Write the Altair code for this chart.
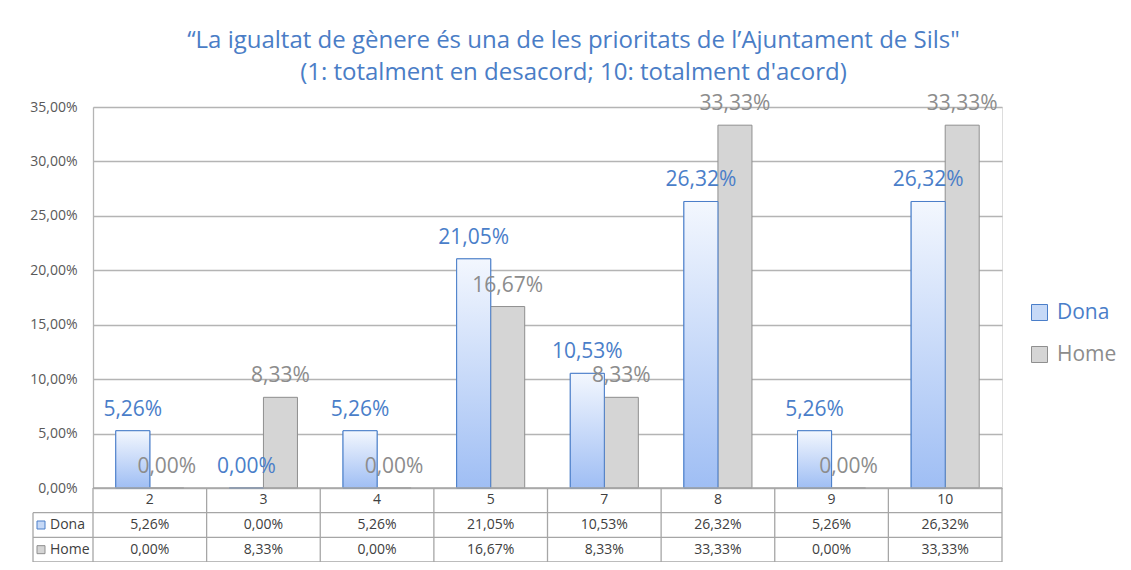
import altair as alt
import pandas as pd

# ---------------- data ----------------
categories = ["2", "3", "4", "5", "7", "8", "9", "10"]
series = ["Dona", "Home"]
dona = [5.26, 0.00, 5.26, 21.05, 10.53, 26.32, 5.26, 26.32]
home = [0.00, 8.33, 0.00, 16.67, 8.33, 33.33, 0.00, 33.33]
y_ticks = [0, 5, 10, 15, 20, 25, 30, 35]
title_lines = [
    "\u201cLa igualtat de g\u00e8nere \u00e9s una de les prioritats de l\u2019Ajuntament de Sils\"",
    "(1: totalment en desacord; 10: totalment d'acord)",
]

# ---------------- style / layout ----------------
FONT = "Open Sans"
W, H = 909, 381
TABLE_H = 74
BLUE = "#4a7ec9"
GRAY_TXT = "#8c8c8c"
DONA_FILL = "#c6d9f7"
HOME_FILL = "#d5d5d5"
HOME_STROKE = "#8f8f8f"
LINE = "#a6a6a6"
TXT = "#404040"
COL_PX = W / len(categories)
HDR_L = -60 / COL_PX          # left edge of header column (in column units)
ICON_X = -52 / COL_PX
HDR_TXT_X = -43 / COL_PX

def pct(v):
    return f"{v:.2f}".replace(".", ",") + "%"

# ---------------- tables built from the arrays ----------------
main_df = pd.DataFrame(
    [{"category": c, "series": "Dona", "value": v} for c, v in zip(categories, dona)]
    + [{"category": c, "series": "Home", "value": v} for c, v in zip(categories, home)]
)

cells = []
for i, c in enumerate(categories):
    cells.append({"x": i + 0.5, "y": 0.5, "text": c})
    cells.append({"x": i + 0.5, "y": 1.5, "text": pct(dona[i])})
    cells.append({"x": i + 0.5, "y": 2.5, "text": pct(home[i])})
cells_df = pd.DataFrame(cells)

hdr_df = pd.DataFrame([
    {"x": HDR_TXT_X, "y": 1.5, "text": series[0], "series": series[0], "ix": ICON_X},
    {"x": HDR_TXT_X, "y": 2.5, "text": series[1], "series": series[1], "ix": ICON_X},
])

lines = []
for r in range(4):
    lines.append({"x": HDR_L if r >= 1 else 0, "x2": len(categories), "y": r, "y2": r})
for k in range(len(categories) + 1):
    lines.append({"x": k, "x2": k, "y": 0, "y2": 3})
lines.append({"x": HDR_L, "x2": HDR_L, "y": 1, "y2": 3})
lines_df = pd.DataFrame(lines)

# ---------------- main chart ----------------
x_enc = alt.X("category:N", sort=categories,
              scale=alt.Scale(paddingInner=0, paddingOuter=0), axis=None)
xo_enc = alt.XOffset("series:N", sort=series,
                     scale=alt.Scale(domain=series, paddingInner=0, paddingOuter=0.67))
y_enc = alt.Y(
    "value:Q",
    scale=alt.Scale(domain=[0, 35], nice=False),
    axis=alt.Axis(
        title=None, values=y_ticks, grid=True, gridColor="#b4b4b4", gridWidth=1.3,
        domainColor="#b4b4b4", domainWidth=1.3, ticks=False, labelPadding=16,
        labelFont=FONT, labelFontSize=14, labelColor="#595959",
        labelExpr="replace(format(datum.value, '.2f'), '.', ',') + '%'",
    ),
)

legend = alt.Legend(
    title=None, orient="none", legendX=936, legendY=195, symbolType="square",
    symbolSize=256, symbolStrokeWidth=1, labelFont=FONT, labelFontSize=21,
    labelColor={"expr": "datum.label == 'Dona' ? '#4a7ec9' : '#8c8c8c'"},
    rowPadding=20, labelOffset=7,
)

base = alt.Chart(main_df)

bars = base.mark_bar(strokeWidth=1).encode(
    x=x_enc, xOffset=xo_enc, y=y_enc,
    fill=alt.Fill("series:N", scale=alt.Scale(domain=series, range=[DONA_FILL, HOME_FILL]), legend=legend),
    stroke=alt.Stroke("series:N", scale=alt.Scale(domain=series, range=[BLUE, HOME_STROKE]), legend=legend),
)

gradient = {
    "gradient": "linear", "x1": 0, "y1": 0, "x2": 0, "y2": 1,
    "stops": [{"offset": 0, "color": "#f3f7fe"}, {"offset": 1, "color": "#9fbef4"}],
}
dona_bars = base.transform_filter("datum.series == 'Dona'").mark_bar(
    fill=gradient, stroke=BLUE, strokeWidth=1
).encode(x=x_enc, xOffset=xo_enc, y=alt.Y("value:Q"))

labels = base.transform_calculate(
    label="replace(format(datum.value, '.2f'), '.', ',') + '%'"
).mark_text(font=FONT, fontSize=21, dy=-21, baseline="middle").encode(
    x=x_enc, xOffset=xo_enc, y=alt.Y("value:Q"), text="label:N",
    color=alt.condition("datum.series == 'Dona'", alt.value(BLUE), alt.value(GRAY_TXT)),
)

main = alt.layer(bars, dona_bars, labels)

# ---------------- data table ----------------
tx = alt.Scale(domain=[0, len(categories)], range=[0, W], nice=False, zero=False)
ty = alt.Scale(domain=[0, 3], range=[H, H + TABLE_H], nice=False, zero=False)

rules = alt.Chart(lines_df).mark_rule(color=LINE, strokeWidth=1.3).encode(
    x=alt.X("x:Q", scale=tx, axis=None), x2="x2:Q",
    y=alt.Y("y:Q", scale=ty, axis=None), y2="y2:Q",
)
cell_text = alt.Chart(cells_df).mark_text(font=FONT, fontSize=14, color=TXT, baseline="middle").encode(
    x=alt.X("x:Q", scale=tx, axis=None), y=alt.Y("y:Q", scale=ty, axis=None), text="text:N",
)
hdr_text = alt.Chart(hdr_df).mark_text(font=FONT, fontSize=14, color=TXT, baseline="middle", align="left").encode(
    x=alt.X("x:Q", scale=tx, axis=None), y=alt.Y("y:Q", scale=ty, axis=None), text="text:N",
)
icon_d = alt.Chart(hdr_df).transform_filter("datum.series == 'Dona'").mark_square(
    size=64, fill=DONA_FILL, stroke=BLUE, strokeWidth=1, opacity=1
).encode(x=alt.X("ix:Q", scale=tx, axis=None), y=alt.Y("y:Q", scale=ty, axis=None))
icon_h = alt.Chart(hdr_df).transform_filter("datum.series == 'Home'").mark_square(
    size=64, fill=HOME_FILL, stroke=HOME_STROKE, strokeWidth=1, opacity=1
).encode(x=alt.X("ix:Q", scale=tx, axis=None), y=alt.Y("y:Q", scale=ty, axis=None))

table = alt.layer(rules, cell_text, hdr_text, icon_d, icon_h)

chart = alt.layer(main, table).resolve_scale(
    x="independent", y="independent"
).properties(
    width=W, height=H,
    padding={"left": 85, "top": 99, "right": 121, "bottom": 74},
    autosize=alt.AutoSizeParams(type="none"),
    title=alt.Title(text=title_lines, font=FONT, fontSize=24, fontWeight="normal",
                    color="#4a7dc6", anchor="middle", dx=26, offset=8, lineHeight=32),
).configure_view(stroke=None).configure(font=FONT)

chart.save("out.html", embed_options={"renderer": "svg", "actions": False})
